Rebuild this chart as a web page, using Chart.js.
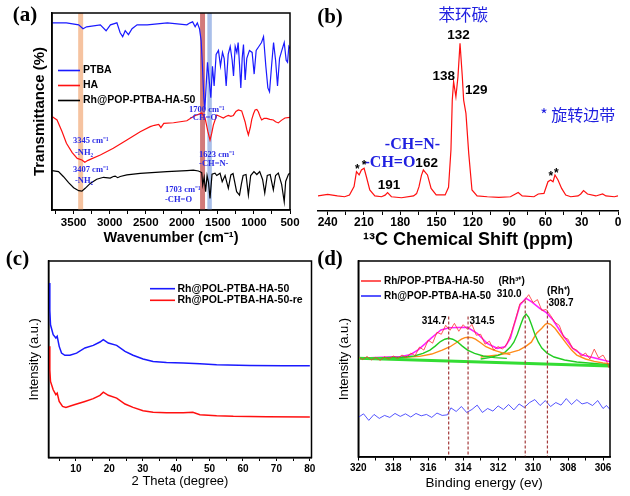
<!DOCTYPE html>
<html>
<head>
<meta charset="utf-8">
<script src="https://cdn.jsdelivr.net/npm/chart.js@4.4.1/dist/chart.umd.min.js"></script>
<style>
  html, body { margin: 0; padding: 0; background: #fff; }
  #wrap { position: relative; width: 630px; height: 496px; overflow: hidden; }
  canvas { position: absolute; left: 0; top: 0; }
</style>
</head>
<body>
<div id="wrap">
  <canvas id="chartA" width="630" height="496"></canvas>
  <canvas id="chartB" width="630" height="496"></canvas>
  <canvas id="chartC" width="630" height="496"></canvas>
  <canvas id="chartD" width="630" height="496"></canvas>
</div>
<script>
// ---- (a) FT-IR ----
const waveTicks = [500, 1000, 1500, 2000, 2500, 3000, 3500];
const waveMinor = [750, 1250, 1750, 2250, 2750, 3250, 3750];
const ptbaWave = [3800, 3600, 3430, 3370, 3320, 3130, 3050, 2990, 2900, 2855, 2820, 2785, 2740, 2690, 2620, 2480, 2200, 1930, 1885, 1850, 1815, 1785, 1755, 1732, 1714, 1695, 1681, 1663, 1644, 1621, 1598, 1575, 1552, 1524, 1492, 1464, 1436, 1413, 1385, 1357, 1329, 1302, 1283, 1260, 1237, 1219, 1200, 1182, 1163, 1145, 1122, 1099, 1062, 1025, 997, 969, 932, 895, 867, 835, 807, 784, 756, 728, 700, 673, 645, 613, 580, 553, 534, 516, 500];
const ptbaT = [95, 95, 94, 92, 93, 94, 91, 94, 95, 90, 88, 91, 89, 92, 94, 94, 95, 94, 95, 95.5, 93, 95, 92, 86, 73, 57, 51, 63, 75, 66, 57, 73, 63, 79, 81, 73, 80, 77, 63, 79, 83, 76, 68, 83, 80, 85, 74, 62, 77, 84, 66, 77, 81, 80, 69, 81, 83, 85, 88, 73, 62, 60, 73, 85, 76, 63, 77, 81, 85, 76, 75, 83, 82];
const haWave = [3800, 3730, 3660, 3600, 3520, 3450, 3385, 3345, 3300, 3270, 3130, 2950, 2762, 2577, 2438, 2380, 2320, 2290, 2250, 2115, 1930, 1840, 1793, 1724, 1678, 1640, 1609, 1585, 1563, 1516, 1470, 1424, 1390, 1355, 1320, 1285, 1250, 1216, 1170, 1123, 1100, 1077, 1050, 1030, 1005, 984, 960, 939, 915, 893, 860, 824, 780, 731, 700, 662, 620, 570, 500];
const haT = [47.4, 45.7, 39.7, 33.9, 29.1, 26.2, 25.4, 24.2, 25.2, 25.7, 27.9, 31.3, 35.5, 39.7, 42.3, 43, 43.5, 41.8, 44, 44.3, 45.3, 47.5, 48.2, 49.2, 46.7, 40, 35.5, 39, 43.1, 48.2, 47.5, 46.7, 47.5, 48, 47.5, 48, 50, 50.8, 50.3, 44.8, 41, 38.1, 42, 46, 49, 50.8, 51, 49.9, 47.5, 45.7, 46.5, 46.5, 46, 45.7, 44.8, 44.2, 45.5, 46.7, 47];
const rhWave = [3800, 3710, 3640, 3570, 3500, 3430, 3385, 3340, 3270, 3180, 3085, 2993, 2950, 2924, 2890, 2854, 2762, 2577, 2207, 1930, 1840, 1770, 1724, 1710, 1690, 1670, 1650, 1630, 1609, 1581, 1540, 1516, 1490, 1470, 1440, 1400, 1355, 1320, 1290, 1240, 1200, 1175, 1150, 1110, 1077, 1045, 1000, 960, 920, 880, 850, 815, 775, 731, 700, 662, 616, 580, 560, 520, 500];
const rhT = [20, 19.5, 16.9, 13.9, 11.3, 9.8, 9.6, 11, 13.5, 15.6, 16.6, 16.2, 17, 17.2, 16.4, 17, 17.8, 18.6, 19.5, 20, 20.2, 19.8, 19, 12.7, 16.5, 9.3, 17.5, 14, 5.9, 18.2, 18.7, 17.5, 18.2, 18.7, 14.4, 17.5, 11, 17.8, 18.5, 9.3, 7.6, 13, 17.5, 18, 7.6, 17.5, 19.5, 18, 19.5, 15.5, 8.6, 17.5, 18, 10.2, 17.5, 18.7, 13, 4.2, 14.5, 18.2, 18.7];
const bandFrom = [3437, 1747, 1646];
const bandTo = [3368, 1678, 1584];
const bandColors = ['#f6c3a0', '#d27a7a', '#a9bfe9'];

// ---- (b) 13C NMR ----
const ppmTicks = [0, 30, 60, 90, 120, 150, 180, 210, 240];
const ppmMinor = [15, 45, 75, 105, 135, 165, 195, 225];
const nmrPpm = [248, 240, 232, 226, 222, 218.2, 216.2, 214, 212.1, 209.9, 208, 205.2, 201, 195.5, 192.5, 190.5, 187.3, 179, 169, 166.5, 164.5, 162.5, 160.9, 157.5, 154.5, 150.3, 142.9, 140.1, 138.1, 137, 135.9, 134, 132.3, 130.6, 128.7, 127.6, 125.7, 123.4, 120.7, 116.5, 108, 98.5, 88.9, 82.5, 79.2, 69.5, 65.9, 61.2, 57.9, 55.7, 53.7, 52.1, 49.6, 46.6, 43.2, 39.1, 33, 30.8, 28.5, 25.2, 18.3, 12.7, 10, 3, 0];
const nmrInt = [7.6, 8.4, 7.6, 7.2, 8.1, 12.3, 19.9, 18.2, 20.7, 21.6, 17.3, 10.6, 7.6, 7.2, 8, 9.3, 7.2, 6.7, 7.6, 8.8, 12.3, 18, 20.7, 18.2, 11.4, 8.1, 8.1, 12, 30.8, 56, 65.3, 57.7, 67.8, 84.7, 67.8, 56, 49.3, 29.1, 10.6, 7.6, 7.2, 6.9, 7.2, 9.3, 7.6, 7.2, 8.6, 8.9, 14.8, 15.7, 14.8, 18.2, 15.7, 11.4, 8.1, 7.2, 7.6, 8.6, 10.3, 8.6, 7.6, 8.6, 7.6, 7.2, 7.6];

// ---- (c) XRD ----
const thetaTicks = [10, 20, 30, 40, 50, 60, 70, 80];
const thetaMinor = [5, 15, 25, 35, 45, 55, 65, 75];
const xrdThetaA = [2.0, 2.2, 2.4, 3.2, 4.0, 4.4, 5.0, 5.7, 6.7, 8.2, 10.2, 12.7, 15.2, 17.2, 18.2, 19.7, 22.2, 24.7, 27.1, 30.1, 33.1, 37.1, 42.1, 47.1, 52.1, 62.1, 72, 80];
const xrdFresh = [88.9, 75, 67.8, 62.8, 61.1, 62, 56.9, 53.5, 52.4, 52.4, 53.5, 56.1, 57.4, 59.1, 60.3, 58.6, 57.4, 54.4, 52.4, 50.5, 49.3, 48.8, 48.5, 48.1, 47.6, 47.3, 47.1, 47.1];
const xrdThetaB = [2.0, 2.2, 2.4, 3.2, 4.0, 4.4, 5.0, 6.0, 7.0, 9.5, 12.7, 15.2, 17.2, 18.2, 19.7, 22.2, 24.7, 27.1, 30.1, 33.1, 37.1, 42.1, 45, 47.1, 52.1, 57.1, 67, 80];
const xrdReused = [56.9, 45, 39.2, 35, 32.5, 33.3, 29.1, 26.6, 26.1, 27.4, 29.1, 30.5, 32.2, 33.8, 32.2, 30.8, 27.8, 26.1, 24.4, 23.6, 23.4, 23.4, 23.6, 22.4, 21.9, 21.6, 21.4, 21.2];

// ---- (d) XPS Rh 3d ----
const evTicks = [306, 308, 310, 312, 314, 316, 318, 320];
const evMinor = [307, 309, 311, 313, 315, 317, 319];
const rawEv = [320, 319.75, 319.5, 319.25, 319, 318.75, 318.5, 318.25, 318, 317.75, 317.5, 317.25, 317, 316.75, 316.5, 316.25, 316, 315.75, 315.5, 315.25, 315, 314.75, 314.5, 314.25, 314, 313.75, 313.5, 313.25, 313, 312.75, 312.5, 312.25, 312, 311.75, 311.5, 311.25, 311, 310.75, 310.5, 310.25, 310, 309.75, 309.5, 309.25, 309, 308.75, 308.5, 308.25, 308, 307.75, 307.5, 307.25, 307, 306.75, 306.5, 306.25, 306, 305.8, 305.65];
const rawInt = [51.5, 50.2, 51.8, 50, 51.3, 49.8, 51.6, 50.4, 52, 50.8, 52.5, 51.2, 53.5, 52.2, 56.5, 55, 60, 58.5, 64, 63, 67.5, 65, 68.5, 64.5, 67.8, 65.5, 68, 62.5, 63, 58, 59.5, 55, 56.8, 55.5, 58, 63.5, 70.5, 78.5, 80, 83, 79, 80.5, 75, 75.5, 72.5, 69, 67.5, 61.5, 60.5, 56, 55, 52, 53.5, 50.5, 55.5, 51, 52.5, 49.5, 46];
const envEv = [320, 319, 318.3, 317.53, 317, 316.58, 316.2, 315.83, 315.5, 315.27, 314.8, 314.3, 313.76, 313.2, 312.63, 312.06, 311.6, 311.3, 311.12, 310.75, 310.41, 310.08, 309.62, 309.24, 308.86, 308.3, 307.73, 307.17, 306.41, 305.6];
const envInt = [50.9, 51.2, 51.5, 51.7, 52.8, 55.1, 58, 61, 63.5, 65.2, 66.3, 66.4, 66.5, 63.5, 58.4, 55.9, 56.7, 61, 66.8, 77.8, 81.2, 79.4, 76.1, 73.9, 70.2, 62.6, 55.9, 52.5, 50.9, 49.1];
const g1Ev = [320, 318.5, 317.5, 316.8, 316.3, 315.9, 315.6, 315.3, 315.05, 314.83, 314.6, 314.35, 314.05, 313.75, 313.35, 312.85, 312.2, 311.5];
const g1Int = [50.9, 51.1, 51.4, 52, 53.3, 55, 57, 59.3, 60.5, 61, 60.5, 59.3, 57, 55, 53.3, 52, 51.2, 50.8];
const g2Ev = [313, 312.5, 312, 311.6, 311.3, 311.1, 310.9, 310.7, 310.55, 310.4, 310.25, 310.1, 309.9, 309.7, 309.5, 309.2, 308.8, 308.2, 307.5, 306.5, 305.6];
const g2Int = [50.5, 51.2, 52.3, 54, 56.5, 59, 63, 68, 71.5, 73.2, 71.5, 68, 63, 59, 56, 53.5, 51.5, 50, 49, 48.2, 47.5];
const o1Ev = [318.5, 317.5, 316.5, 315.8, 315.2, 314.75, 314.4, 314.1, 313.9, 313.72, 313.5, 313.3, 313, 312.7, 312.25, 311.7, 311.3];
const o1Int = [51, 51.2, 51.8, 53, 55, 56.7, 58.7, 60.5, 61.3, 61.5, 61.3, 60.5, 58.7, 56.7, 55, 53.5, 52.8];
const o2Ev = [313, 312, 311.3, 310.8, 310.4, 310.1, 309.8, 309.5, 309.3, 309.18, 309, 308.75, 308.45, 308.1, 307.8, 307.5, 307, 306.5, 306, 305.6];
const o2Int = [51.5, 52.5, 53.7, 55, 57, 59, 63.5, 66, 68, 68.5, 68, 66, 62.5, 58.4, 55, 52.5, 50.5, 49.3, 48.5, 48];
const bgEv = [320, 305.6];
const bgInt = [50.9, 47];
const blueEv = [320, 319.7, 319.4, 319.1, 318.8, 318.5, 318.2, 317.9, 317.6, 317.3, 317, 316.7, 316.4, 316.1, 315.8, 315.5, 315.2, 314.9, 314.7, 314.4, 314.1, 313.8, 313.5, 313.2, 312.9, 312.6, 312.3, 312, 311.7, 311.4, 311.1, 310.8, 310.5, 310.2, 309.9, 309.6, 309.3, 309, 308.7, 308.4, 308.1, 307.8, 307.5, 307.2, 306.9, 306.6, 306.3, 306, 305.8, 305.6];
const blueInt = [21, 22.8, 19.5, 22.5, 20.5, 22, 21, 23, 21.5, 22.8, 21.2, 23, 21.8, 22.5, 21, 23.2, 22, 22.3, 25.8, 24, 26.5, 23.5, 25, 27.2, 23.5, 25.5, 24.2, 26.8, 25, 27.5, 24.8, 27.8, 26, 28.5, 30, 27, 29.5, 26.5, 28.5, 27.2, 30.5, 27.5, 30, 27.8, 28.5, 27, 29.5, 25.5, 27, 25];
const peakEv = [314.83, 313.72, 310.45, 309.18];
const peakTop = [72, 72, 80, 80];

const SANS = '"Liberation Sans", Arial, sans-serif';
const SERIF = '"Liberation Serif", "Times New Roman", serif';
const CJK = '"Noto Sans CJK SC", sans-serif';

const pts = (xs, ys) => xs.map((x, i) => ({ x, y: ys[i] }));

// draws bands, dashed markers, frame, notes, legend and panel tag
const deco = {
  id: 'deco',
  beforeDatasetsDraw(chart, args, o) {
    const { ctx, chartArea: ca, scales: { x } } = chart;
    (o.bands || []).forEach(b => {
      const x1 = x.getPixelForValue(b.from), x2 = x.getPixelForValue(b.to);
      ctx.fillStyle = b.color;
      ctx.fillRect(Math.min(x1, x2), ca.top, Math.abs(x2 - x1), ca.bottom - ca.top);
    });
  },
  afterDatasetsDraw(chart, args, o) {
    const { ctx, chartArea: ca, scales: { x, y } } = chart;
    ctx.save();
    (o.vlines || []).forEach(v => {
      const px = x.getPixelForValue(v.x);
      ctx.strokeStyle = '#a33a3a';
      ctx.lineWidth = 1.2;
      ctx.setLineDash([3, 2]);
      ctx.beginPath();
      ctx.moveTo(px, y.getPixelForValue(v.top));
      ctx.lineTo(px, ca.bottom);
      ctx.stroke();
    });
    ctx.setLineDash([]);
    if (o.frame) {
      ctx.strokeStyle = '#000';
      ctx.lineWidth = 1.5;
      ctx.strokeRect(ca.left, ca.top, ca.right - ca.left, ca.bottom - ca.top);
    }
    ctx.textBaseline = 'middle';
    (o.notes || []).forEach(n => {
      ctx.font = n.font;
      ctx.fillStyle = n.color || '#000';
      ctx.textAlign = n.align || 'center';
      ctx.fillText(n.text, x.getPixelForValue(n.x), y.getPixelForValue(n.y));
    });
    if (o.legend) {
      const L = o.legend;
      ctx.font = L.font;
      ctx.textAlign = 'left';
      L.items.forEach((idx, k) => {
        const ds = chart.data.datasets[idx];
        const ly = ca.top + L.dy + k * L.gap;
        const lx = ca.left + L.dx;
        ctx.strokeStyle = ds.borderColor;
        ctx.lineWidth = 1.6;
        ctx.beginPath();
        ctx.moveTo(lx, ly);
        ctx.lineTo(lx + L.len, ly);
        ctx.stroke();
        ctx.fillStyle = '#000';
        ctx.fillText(ds.label, lx + L.len + L.tgap, ly);
      });
    }
    if (o.tag) {
      ctx.font = 'bold 21px ' + SERIF;
      ctx.fillStyle = '#000';
      ctx.textAlign = 'center';
      ctx.fillText(o.tag.text, ca.left + o.tag.dx, ca.top + o.tag.dy);
    }
    ctx.restore();
  }
};

function bottomAxis(o) {
  return {
    type: 'linear', min: o.min, max: o.max, reverse: !!o.reverse,
    afterBuildTicks: s => { s.ticks = o.major.concat(o.minor).sort((a, b) => a - b).map(v => ({ value: v })); },
    afterFit: s => { s.height = o.height; },
    ticks: {
      autoSkip: false, maxRotation: 0, padding: o.pad, color: '#000',
      font: { family: SANS, size: o.size, weight: 'bold', lineHeight: 1.2 },
      callback: v => o.major.includes(v) ? String(v) : ''
    },
    grid: { drawOnChartArea: false, tickLength: o.tick, tickColor: '#000', tickWidth: 1 },
    border: { color: '#000', width: 1.5 },
    title: { display: true, text: o.title, color: '#000', padding: 0, font: o.titleFont }
  };
}

function leftAxis(o) {
  return {
    min: o.min, max: 100,
    ticks: { display: false }, grid: { display: false },
    border: { display: o.show !== false, color: '#000', width: 1.5 },
    title: { display: !!o.title, text: o.title, color: '#000', padding: 0, font: o.font },
    afterFit: s => { s.width = o.width; }
  };
}

function line(label, data, color, width) {
  return { label, data, borderColor: color, borderWidth: width, pointRadius: 0, tension: 0, fill: false };
}

function makeChart(id, datasets, scales, padding, decoOpts) {
  return new Chart(document.getElementById(id), {
    type: 'line',
    data: { datasets },
    options: {
      responsive: false, animation: false, events: [],
      layout: { padding },
      scales,
      plugins: { legend: { display: false }, tooltip: { enabled: false }, deco: decoOpts }
    },
    plugins: [deco]
  });
}

// (a)
const noteA = 'bold 8.5px ' + SERIF;
makeChart('chartA', [
  line('PTBA', pts(ptbaWave, ptbaT), '#1a1aff', 1.2),
  line('HA', pts(haWave, haT), '#ff1010', 1.2),
  line('Rh@POP-PTBA-HA-50', pts(rhWave, rhT), '#000', 1.2)
], {
  x: bottomAxis({ min: 500, max: 3800, reverse: true, major: waveTicks, minor: waveMinor, size: 11.5, pad: 2, tick: 4,
    height: 36.2, title: 'Wavenumber (cm⁻¹)', titleFont: { family: SANS, size: 14.5, weight: 'bold' } }),
  y: leftAxis({ min: 0, width: 21, title: 'Transmittance (%)', font: { family: SANS, size: 15, weight: 'bold' } })
}, { left: 31, right: 340, top: 13, bottom: 249.8 }, {
  frame: true,
  bands: bandFrom.map((f, i) => ({ from: f, to: bandTo[i], color: bandColors[i] })),
  legend: { items: [0, 1, 2], dx: 6, dy: 57.5, gap: 15, len: 22, tgap: 3, font: 'bold 10.5px ' + SANS },
  notes: [
    { text: '3345 cm⁻¹', x: 3509, y: 35, font: noteA, color: '#2a2ae6', align: 'left' },
    { text: '-NH₂', x: 3481, y: 29.2, font: noteA, color: '#2a2ae6', align: 'left' },
    { text: '3407 cm⁻¹', x: 3509, y: 20.3, font: noteA, color: '#2a2ae6', align: 'left' },
    { text: '-NH₂', x: 3481, y: 15, font: noteA, color: '#2a2ae6', align: 'left' },
    { text: '1700 cm⁻¹', x: 1900, y: 50.8, font: noteA, color: '#2a2ae6', align: 'left' },
    { text: '-CH=O', x: 1886, y: 46.7, font: noteA, color: '#2a2ae6', align: 'left' },
    { text: '1623 cm⁻¹', x: 1761, y: 27.9, font: noteA, color: '#2a2ae6', align: 'left' },
    { text: '-CH=N-', x: 1761, y: 23.4, font: noteA, color: '#2a2ae6', align: 'left' },
    { text: '1703 cm⁻¹', x: 2233, y: 10.2, font: noteA, color: '#2a2ae6', align: 'left' },
    { text: '-CH=O', x: 2233, y: 5.1, font: noteA, color: '#2a2ae6', align: 'left' }
  ],
  tag: { text: '(a)', dx: -27, dy: 3 }
});

// (b)
const numB = 'bold 13.5px ' + SANS;
makeChart('chartB', [
  line('13C', pts(nmrPpm, nmrInt), '#ff1010', 1.2)
], {
  x: bottomAxis({ min: 0, max: 248, reverse: true, major: ppmTicks, minor: ppmMinor, size: 12, pad: 0, tick: 4,
    height: 39.8, title: '¹³C Chemical Shift (ppm)', titleFont: { family: SANS, size: 18, weight: 'bold' } }),
  y: { min: 0, max: 100, display: false }
}, { left: 318, right: 12, top: 13, bottom: 245.2 }, {
  notes: [
    { text: '苯环碳', x: 127.9, y: 99, font: '16.5px ' + CJK, color: '#2020e0' },
    { text: '132', x: 131.8, y: 88.9, font: numB },
    { text: '138', x: 144.1, y: 68.2, font: numB },
    { text: '129', x: 117.1, y: 60.8, font: numB },
    { text: '* 旋转边带', x: 33.2, y: 48.5, font: '16px ' + CJK, color: '#2020e0' },
    { text: '-CH=N-', x: 169.9, y: 33.3, font: 'bold 16px ' + SERIF, color: '#2020e0' },
    { text: '-CH=O', x: 188.5, y: 24.2, font: 'bold 16px ' + SERIF, color: '#2020e0' },
    { text: '162', x: 158.2, y: 24.2, font: numB },
    { text: '191', x: 189.4, y: 13.1, font: numB },
    { text: '*', x: 215.4, y: 21.0, font: 'bold 12px ' + SANS },
    { text: '*', x: 209.9, y: 22.7, font: 'bold 12px ' + SANS },
    { text: '*', x: 55.6, y: 17.2, font: 'bold 12px ' + SANS },
    { text: '*', x: 50.9, y: 19.0, font: 'bold 12px ' + SANS }
  ],
  tag: { text: '(b)', dx: 12, dy: 4.5 }
});

// (c)
makeChart('chartC', [
  line('Rh@POL-PTBA-HA-50', pts(xrdThetaA, xrdFresh), '#1a1aff', 1.5),
  line('Rh@POL-PTBA-HA-50-re', pts(xrdThetaB, xrdReused), '#ff1010', 1.5)
], {
  x: bottomAxis({ min: 1.8, max: 80.5, major: thetaTicks, minor: thetaMinor, size: 10, pad: 2, tick: 3.5,
    height: 32, title: '2 Theta (degree)', titleFont: { family: SANS, size: 13 } }),
  y: leftAxis({ min: 0.8, width: 22.3, title: 'Intensity (a.u.)', font: { family: SANS, size: 13 } })
}, { left: 26.2, right: 318.5, top: 261, bottom: 6.5 }, {
  frame: true,
  legend: { items: [0, 1], dx: 101.5, dy: 27.7, gap: 11.6, len: 25, tgap: 2.5, font: 'bold 10.5px ' + SANS },
  tag: { text: '(c)', dx: -31, dy: -1.5 }
});

// (d)
const numD = 'bold 10px ' + SANS;
makeChart('chartD', [
  line('Rh/POP-PTBA-HA-50', pts(rawEv, rawInt), '#ff3030', 0.8),
  line('Rh@POP-PTBA-HA-50', pts(blueEv, blueInt), '#2b2bff', 0.8),
  line('background', pts(bgEv, bgInt), '#33dd33', 3),
  line('fit 1', pts(g1Ev, g1Int), '#22cc22', 1.4),
  line('fit 2', pts(o1Ev, o1Int), '#ff8c1a', 1.4),
  line('fit 3', pts(g2Ev, g2Int), '#22cc22', 1.4),
  line('fit 4', pts(o2Ev, o2Int), '#ff8c1a', 1.4),
  line('envelope', pts(envEv, envInt), '#ff20ff', 1.6)
], {
  x: bottomAxis({ min: 305.6, max: 320, reverse: true, major: evTicks, minor: evMinor, size: 10, pad: 2, tick: 3.5,
    height: 34.1, title: 'Binding energy (ev)', titleFont: { family: SANS, size: 13.5 } }),
  y: leftAxis({ min: 1, width: 22.1, title: 'Intensity (a.u.)', font: { family: SANS, size: 13 } })
}, { left: 336.2, right: 20, top: 261, bottom: 4.9 }, {
  frame: true,
  vlines: peakEv.map((v, i) => ({ x: v, top: peakTop[i] })),
  legend: { items: [0, 1], dx: 2.7, dy: 20, gap: 15, len: 20, tgap: 3, font: 'bold 10px ' + SANS },
  notes: [
    { text: '314.7', x: 315.66, y: 69.5, font: numD },
    { text: '314.5', x: 312.92, y: 69.5, font: numD },
    { text: '(Rh³⁺)', x: 311.23, y: 89.9, font: numD },
    { text: '310.0', x: 311.37, y: 83.3, font: numD },
    { text: '(Rh⁺)', x: 308.54, y: 84.8, font: numD },
    { text: '308.7', x: 308.4, y: 78.5, font: numD }
  ],
  tag: { text: '(d)', dx: -28.3, dy: -1.5 }
});
</script>
</body>
</html>
